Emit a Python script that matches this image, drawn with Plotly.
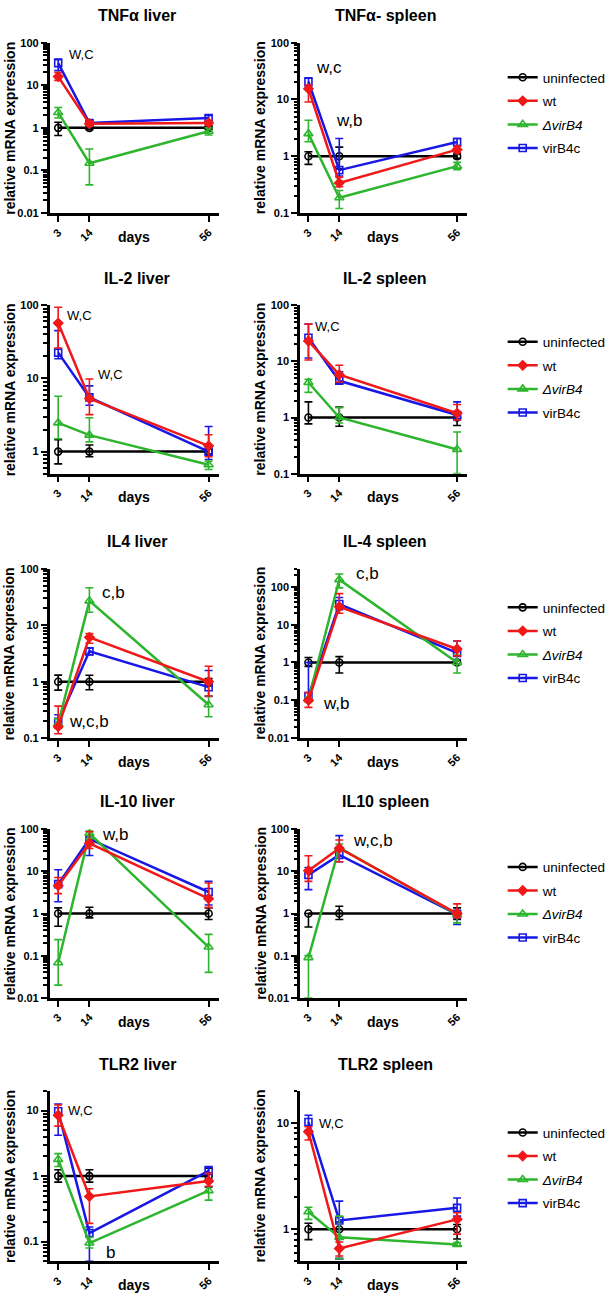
import math
import plotly.graph_objects as go

# ---------------- data ----------------
days = [3, 14, 56]
series_names = ["uninfected", "wt", "<i>ΔvirB4</i>", "virB4c"]
series_colors = ["#000000", "#f01818", "#2db52d", "#1818e6"]
series_symbols = ["circle-open", "diamond", "triangle-up-open", "square-open"]

panel_titles = ["TNFα liver", "TNFα- spleen", "IL-2 liver", "IL-2 spleen",
                "IL4 liver", "IL-4 spleen", "IL-10 liver", "IL10 spleen",
                "TLR2 liver", "TLR2 spleen"]

# each list: [uninfected, wt, ΔvirB4, virB4c] x [day3, day14, day56]
tnfa_liver_mean = [[1, 1, 1], [16, 1.25, 1.3], [2.3, 0.148, 0.83], [33, 1.3, 1.7]]
tnfa_liver_hi = [[1.35, 1.12, 1.1], [20, 1.45, 1.45], [3.0, 0.32, 1.0], [41, 1.5, 1.95]]
tnfa_liver_lo = [[0.66, 0.9, 0.92], [13, 1.1, 1.15], [1.7, 0.046, 0.68], [22, 1.12, 1.45]]

tnfa_spleen_mean = [[1, 1, 1], [15.4, 0.34, 1.31], [2.5, 0.186, 0.67], [20.5, 0.57, 1.78]]
tnfa_spleen_hi = [[1.2, 1.45, 1.1], [18, 0.43, 1.5], [4.3, 0.25, 0.78], [24, 2.05, 2.05]]
tnfa_spleen_lo = [[0.72, 0.6, 0.92], [9, 0.29, 1.15], [1.8, 0.12, 0.58], [17, 0.45, 1.55]]

il2_liver_mean = [[1, 1, 1], [57, 5.3, 1.2], [2.47, 1.68, 0.66], [22.5, 5.5, 1.0]]
il2_liver_hi = [[1.45, 1.23, 1.08], [94, 9.8, 1.7], [5.7, 2.9, 0.74], [45, 7.9, 2.2]]
il2_liver_lo = [[0.68, 0.85, 0.92], [26, 3.2, 0.85], [1.5, 1.36, 0.57], [18.6, 4.3, 0.78]]

il2_spleen_mean = [[1, 1, 1], [23, 5.8, 1.19], [4.2, 1.0, 0.27], [26.3, 4.5, 1.11]]
il2_spleen_hi = [[1.9, 1.53, 1.22], [46, 8.5, 1.7], [4.8, 1.5, 0.55], [46, 6.5, 1.9]]
il2_spleen_lo = [[0.77, 0.7, 0.72], [10.6, 4.3, 0.9], [2.8, 0.8, 0.1], [11.5, 4.1, 0.9]]

il4_liver_mean = [[1, 1, 1], [0.16, 6.1, 1.0], [0.18, 27, 0.39], [0.196, 3.45, 0.8]]
il4_liver_hi = [[1.31, 1.3, 1.14], [0.37, 7.1, 1.88], [0.22, 46, 0.56], [0.26, 3.95, 1.58]]
il4_liver_lo = [[0.71, 0.72, 0.84], [0.12, 4.8, 0.56], [0.15, 17, 0.24], [0.15, 3.0, 0.55]]

il4_spleen_mean = [[1, 1, 1], [0.1, 29.7, 2.27], [0.107, 155, 1.0], [0.13, 35, 1.8]]
il4_spleen_hi = [[1.35, 1.43, 1.1], [0.16, 66, 3.7], [0.12, 218, 1.58], [1.0, 52, 3.7]]
il4_spleen_lo = [[0.79, 0.53, 0.9], [0.065, 20, 1.5], [0.09, 94, 0.53], [0.11, 25, 1.2]]

il10_liver_mean = [[1, 1, 1], [4.6, 46.7, 2.26], [0.068, 80, 0.16], [5.0, 59, 3.25]]
il10_liver_hi = [[1.36, 1.41, 1.36], [7.2, 88, 5.3], [0.24, 90, 0.32], [11, 67, 5.8]]
il10_liver_lo = [[0.5, 0.79, 0.72], [2.97, 35, 1.4], [0.02, 60, 0.04], [1.9, 24, 1.6]]

il10_spleen_mean = [[1, 1, 1], [10.4, 35.6, 1.0], [0.09, 37, 0.95], [8.3, 24.8, 0.95]]
il10_spleen_hi = [[1.0, 1.49, 1.36], [23.5, 56, 1.7], [0.1, 45, 1.1], [12.4, 71, 1.2]]
il10_spleen_lo = [[0.48, 0.72, 0.72], [5.8, 17, 0.8], [0.01, 30, 0.6], [3.7, 17, 0.55]]

tlr2_liver_mean = [[1, 1, 1], [8.5, 0.49, 0.84], [1.8, 0.095, 0.6], [9.8, 0.135, 1.2]]
tlr2_liver_hi = [[1.25, 1.25, 1.32], [12.2, 0.64, 1.1], [2.2, 0.116, 0.81], [12.6, 0.167, 1.4]]
tlr2_liver_lo = [[0.81, 0.81, 0.68], [5.8, 0.19, 0.7], [1.4, 0.08, 0.43], [4.2, 0.05, 0.9]]

tlr2_spleen_mean = [[1, 1, 1], [8.25, 0.66, 1.24], [1.46, 0.84, 0.72], [10.2, 1.21, 1.59]]
tlr2_spleen_hi = [[1.14, 1.17, 1.11], [9.2, 0.76, 1.43], [1.61, 1.33, 0.75], [11.8, 1.84, 1.97]]
tlr2_spleen_lo = [[0.8, 0.53, 0.81], [6.9, 0.56, 0.9], [1.24, 0.53, 0.7], [8.5, 0.53, 1.33]]

# y axis limits per panel
y_min = [0.01, 0.1, 0.5, 0.1, 0.1, 0.01, 0.01, 0.01, 0.05, 0.5]
y_max = [100, 100, 100, 100, 100, 300, 100, 100, 20, 20]

# significance labels: (text, day, value, font size)
sig_labels = [
    [("W,C", 6.0, 52, 13)],
    [("w,c", 5.0, 36, 17), ("w,b", 12.0, 4.3, 17)],
    [("W,C", 5.4, 73, 13), ("W,C", 16.2, 11.3, 13)],
    [("W,C", 4.8, 41, 13)],
    [("c,b", 17.8, 38, 17), ("w,c,b", 6.1, 0.2, 17)],
    [("c,b", 19.4, 230, 17), ("w,b", 7.6, 0.081, 17)],
    [("w,b", 17.8, 76, 17)],
    [("w,c,b", 18.3, 55, 17)],
    [("W,C", 5.8, 10, 13), ("b", 19.2, 0.067, 17)],
    [("W,C", 6.2, 9.8, 13)],
]

panel_data = [
    (tnfa_liver_mean, tnfa_liver_hi, tnfa_liver_lo),
    (tnfa_spleen_mean, tnfa_spleen_hi, tnfa_spleen_lo),
    (il2_liver_mean, il2_liver_hi, il2_liver_lo),
    (il2_spleen_mean, il2_spleen_hi, il2_spleen_lo),
    (il4_liver_mean, il4_liver_hi, il4_liver_lo),
    (il4_spleen_mean, il4_spleen_hi, il4_spleen_lo),
    (il10_liver_mean, il10_liver_hi, il10_liver_lo),
    (il10_spleen_mean, il10_spleen_hi, il10_spleen_lo),
    (tlr2_liver_mean, tlr2_liver_hi, tlr2_liver_lo),
    (tlr2_spleen_mean, tlr2_spleen_hi, tlr2_spleen_lo),
]

# ---------------- layout geometry (pixels) ----------------
W, H = 611, 1300
FONT = "Liberation Sans, Arial, Helvetica, sans-serif"
col_x = [(50, 220), (302, 470)]
row_y = [(37, 209), (302, 472), (568, 739), (831, 1001), (1095, 1267)]
title_y = [10, 275, 540, 803, 1068]
title_x = [138, 388]
ytitle_x = [10, 262]
legend_cy = [108, 375, 643, 905, 1173]
legend_x = 506
draw_order = [0, 3, 2, 1]
marker_sizes = [7, 7, 8, 7]


def fx(p):
    return p / W


def fy(p):
    return 1 - p / H


def tick_text(v):
    if v >= 1:
        return str(int(round(v)))
    return ("%.10f" % v).rstrip("0")


fig = go.Figure()
layout = dict(width=W, height=H, margin=dict(l=0, r=0, t=0, b=0),
              paper_bgcolor="white", plot_bgcolor="white",
              font=dict(family=FONT, color="black"), annotations=[])

for i in range(10):
    r, c = divmod(i, 2)
    ax = i + 1
    xname = "x" if ax == 1 else f"x{ax}"
    yname = "y" if ax == 1 else f"y{ax}"
    xkey = "xaxis" if ax == 1 else f"xaxis{ax}"
    ykey = "yaxis" if ax == 1 else f"yaxis{ax}"
    lname = "legend" if r == 0 else f"legend{r + 1}"
    mean, hi, lo = panel_data[i]
    for s in draw_order:
        m = mean[s]
        fig.add_trace(go.Scatter(
            x=days, y=m, mode="lines+markers", xaxis=xname, yaxis=yname,
            name=series_names[s], showlegend=(c == 1), legend=lname,
            legendgroup=f"r{r}s{s}", legendrank=s + 1,
            line=dict(color=series_colors[s], width=2.5),
            marker=dict(symbol=series_symbols[s], size=marker_sizes[s], color=series_colors[s],
                        line=dict(width=1.6, color=series_colors[s])),
            error_y=dict(type="data", symmetric=False,
                         array=[max(h - v, 0) for h, v in zip(hi[s], m)],
                         arrayminus=[max(v - l, 0) for l, v in zip(lo[s], m)],
                         color=series_colors[s], thickness=1.6, width=4),
        ))

    x0, x1 = col_x[c]
    yt, yb = row_y[r]
    layout[xkey] = dict(domain=[fx(x0), fx(x1)], anchor=yname, range=[0, 59.5],
                        tickmode="array", tickvals=days, ticktext=[str(d) for d in days],
                        tickangle=-45, ticks="outside", ticklen=6, tickwidth=2,
                        tickcolor="black", showline=True, linecolor="black", linewidth=2.5,
                        showgrid=False, zeroline=False,
                        tickfont=dict(size=11, family=FONT, color="black", weight="bold"))
    lo_e = math.log10(y_min[i])
    hi_e = math.log10(y_max[i])
    majors = [10.0 ** k for k in range(math.ceil(lo_e - 1e-9), math.floor(hi_e + 1e-9) + 1)]
    minors = []
    for k in range(math.floor(lo_e) - 1, math.ceil(hi_e) + 1):
        for mm in range(2, 10):
            v = mm * 10.0 ** k
            if y_min[i] * 0.999 <= v <= y_max[i] * 1.001:
                minors.append(v)
    layout[ykey] = dict(domain=[fy(yb), fy(yt)], anchor=xname, type="log",
                        range=[lo_e, hi_e], tickmode="array", tickvals=majors,
                        ticktext=[tick_text(v) for v in majors],
                        ticks="outside", ticklen=6, tickwidth=2, tickcolor="black",
                        showline=True, linecolor="black", linewidth=2.5,
                        showgrid=False, zeroline=False,
                        tickfont=dict(size=11, family=FONT, color="black", weight="bold"),
                        minor=dict(tickmode="array", tickvals=minors, ticks="outside",
                                   ticklen=3.5, tickwidth=1.5, tickcolor="black", showgrid=False))

    ann = layout["annotations"]
    ann.append(dict(text=panel_titles[i], x=fx(title_x[c]), y=fy(title_y[r]), xref="paper",
                    yref="paper", xanchor="center", yanchor="middle", showarrow=False,
                    font=dict(size=16, family=FONT, color="black", weight="bold")))
    ann.append(dict(text="relative mRNA expression", x=fx(ytitle_x[c]), y=fy((yt + yb) / 2),
                    xref="paper", yref="paper", xanchor="center", yanchor="middle",
                    textangle=-90, showarrow=False,
                    font=dict(size=14, family=FONT, color="black", weight="bold")))
    ann.append(dict(text="days", x=fx((x0 + x1) / 2), y=fy(yb + 24), xref="paper", yref="paper",
                    xanchor="center", yanchor="middle", showarrow=False,
                    font=dict(size=14, family=FONT, color="black", weight="bold")))
    for txt, dx, val, fs in sig_labels[i]:
        ann.append(dict(text=txt, x=dx, y=math.log10(val), xref=xname, yref=yname,
                        xanchor="left", yanchor="middle", showarrow=False,
                        font=dict(size=fs, family=FONT, color="black")))

for r in range(5):
    lname = "legend" if r == 0 else f"legend{r + 1}"
    layout[lname] = dict(x=fx(legend_x), xanchor="left", y=fy(legend_cy[r]), yanchor="middle",
                         font=dict(size=13.5, family=FONT, color="black"),
                         traceorder="grouped", tracegroupgap=3, itemwidth=30,
                         bgcolor="rgba(0,0,0,0)", borderwidth=0)

fig.update_layout(**layout)
fig.write_html("out.html", config={"displayModeBar": False},
               post_script="document.body.style.margin='0px';document.body.style.padding='0px';")
